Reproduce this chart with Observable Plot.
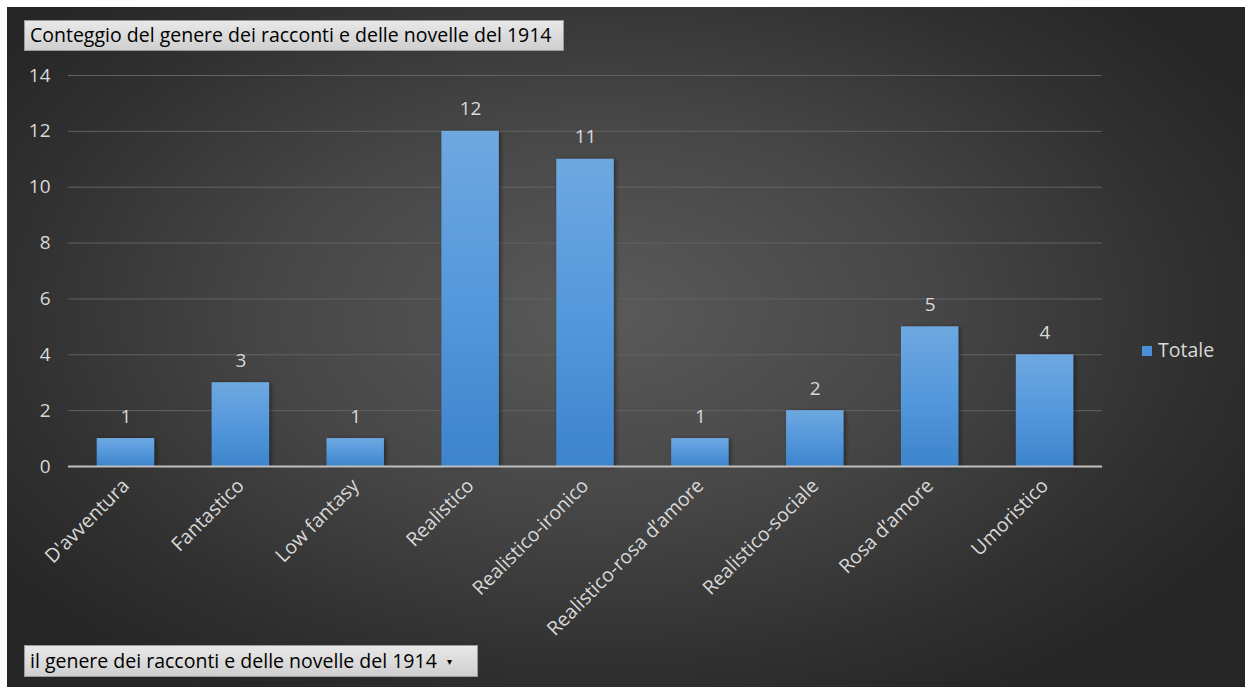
<!DOCTYPE html>
<html>
<head>
<meta charset="utf-8">
<script src="https://cdn.jsdelivr.net/npm/d3@7"></script>
<script src="https://cdn.jsdelivr.net/npm/@observablehq/plot@0.6"></script>
<style>
  html, body { margin: 0; padding: 0; background: #ffffff; }
  #wrap { position: relative; width: 1245px; height: 687px; overflow: hidden; font-family: "Open Sans", sans-serif; }
  #bg { position: absolute; left: 7px; top: 7px; width: 1238px; height: 680px;
        background: radial-gradient(ellipse 60% 65% at 48% 45%, #5a5a5a 0%, #464646 45%, #303030 80%, #262626 100%); }
  #chart { position: absolute; left: 0; top: 0; }
  .box { position: absolute; background: linear-gradient(#e8e8e8, #cfcfcf); color: #000; font-size: 19.5px;
         border: 1px solid #9a9a9a; box-sizing: border-box; white-space: nowrap; line-height: 28px; padding-left: 5px; }
  #title { left: 24px; top: 20px; width: 540px; height: 31px; }
  #field { left: 24px; top: 645px; width: 454px; height: 32px; line-height: 30px; }
  #legend { position: absolute; left: 1142px; top: 336px; color: #d9d9d9; font-size: 19.5px; white-space: nowrap; }
  #legend span.sw { display: inline-block; width: 10px; height: 10px; background: #4a90d9; margin-right: 6px; vertical-align: 1px; }
</style>
</head>
<body>
<div id="wrap">
  <div id="bg"></div>
  <div id="chart"></div>
  <div id="title" class="box">Conteggio del genere dei racconti e delle novelle del 1914</div>
  <div id="field" class="box">il genere dei racconti e delle novelle del 1914 &nbsp;<span style="font-size:10px;vertical-align:3px">&#9662;</span></div>
  <div id="legend"><span class="sw"></span>Totale</div>
</div>
<script>
const categories = ["D'avventura", "Fantastico", "Low fantasy", "Realistico", "Realistico-ironico", "Realistico-rosa d’amore", "Realistico-sociale", "Rosa d’amore", "Umoristico"];
const totals = [1, 3, 1, 12, 11, 1, 2, 5, 4];
const yTicks = [0, 2, 4, 6, 8, 10, 12, 14];
const seriesName = "Totale";

const data = categories.map((c, i) => ({genere: c, totale: totals[i]}));

const chart = Plot.plot({
  width: 1245,
  height: 687,
  marginLeft: 68,
  marginRight: 143,
  marginTop: 75,
  marginBottom: 221,
  style: {background: "transparent", fontFamily: "'Open Sans', sans-serif", color: "#d9d9d9", overflow: "visible"},
  x: {domain: categories, paddingInner: 0.5, paddingOuter: 0.25, round: false, label: null},
  y: {domain: [0, 14], label: null},
  marks: [
    () => {
      const ns = "http://www.w3.org/2000/svg";
      const defs = document.createElementNS(ns, "defs");
      defs.innerHTML = `<linearGradient id="barGrad" x1="0" y1="0" x2="0" y2="1">
          <stop offset="0%" stop-color="#6ea8e0"/>
          <stop offset="50%" stop-color="#5598dc"/>
          <stop offset="100%" stop-color="#3d84cc"/>
        </linearGradient>
        <filter id="shadow" x="-20%" y="-10%" width="140%" height="120%">
          <feDropShadow dx="2" dy="1" stdDeviation="2" flood-color="#000" flood-opacity="0.45"/>
        </filter>`;
      return defs;
    },
    Plot.gridY(yTicks, {stroke: "#626262", strokeOpacity: 1, strokeWidth: 1}),
    Plot.axisY({ticks: yTicks, tickSize: 0, tickPadding: 18, fontSize: 19, fill: "#d9d9d9", label: null}),
    Plot.barY(data, {x: "genere", y: "totale", fill: "url(#barGrad)"}),
    Plot.ruleY([0], {stroke: "#bfbfbf", strokeWidth: 2}),
    Plot.text(data, {x: "genere", y: "totale", text: d => String(d.totale), dy: -22, fontSize: 19, fill: "#d9d9d9"}),
    Plot.axisX({tickSize: 0, tickRotate: -45, tickPadding: 16, fontSize: 19.5, fill: "#d9d9d9", label: null, dx: 0})
  ]
});
chart.querySelectorAll("rect").forEach(r => r.setAttribute("filter", "url(#shadow)"));
document.getElementById("chart").appendChild(chart);
</script>
</body>
</html>
